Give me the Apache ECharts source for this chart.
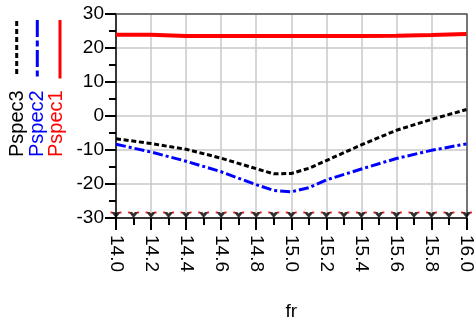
<!DOCTYPE html>
<html><head><meta charset="utf-8">
<script src="https://cdn.jsdelivr.net/npm/echarts@6/dist/echarts.min.js"></script>
<style>html,body{margin:0;padding:0;background:#fff}#c{width:476px;height:326px}</style>
</head><body><div id="c"></div>
<script>
const freq = [14.0,14.2,14.4,14.6,14.8,14.9,15.0,15.1,15.2,15.4,15.6,15.8,16.0];
const pspec1 = [23.9,23.9,23.5,23.5,23.5,23.5,23.5,23.5,23.5,23.5,23.6,23.8,24.1];
const pspec2 = [-8.3,-10.6,-13.3,-16.4,-20.2,-21.9,-22.3,-21.1,-18.8,-15.6,-12.5,-10.1,-8.2];
const pspec3 = [-6.7,-8.1,-9.8,-12.4,-15.5,-17.0,-16.9,-15.4,-13.1,-8.5,-4.2,-1.0,1.9];
const markerFreq = [14.0,14.1,14.2,14.3,14.4,14.5,14.6,14.7,14.8,14.9,15.0,15.1,15.2,15.3,15.4,15.5,15.6,15.7,15.8,15.9,16.0];
const markerLevel = [-30,-30,-30,-30,-30,-30,-30,-30,-30,-30,-30,-30,-30,-30,-30,-30,-30,-30,-30,-30,-30];
const legendNames = ['Pspec3','Pspec2','Pspec1'];
const legendColors = ['#000000','#0000ff','#ff0000'];

const FONT = 'Liberation Sans, Arial, sans-serif';
const pair = (xs, ys) => xs.map((x,i)=>[x, ys[i]]);

const chart = echarts.init(document.getElementById('c'));
const legendX = [17.5, 37.5, 56.5];
const sampleX = [16.7, 37.3, 60];
const graphics = [];
legendNames.forEach((n,i)=>{
  graphics.push({type:'text', x:legendX[i], y:157, rotation:Math.PI/2,
    style:{text:n, fill:legendColors[i], font:'20px '+FONT, textAlign:'left', textVerticalAlign:'middle'}});
});
graphics.push({type:'line', shape:{x1:sampleX[0],y1:21,x2:sampleX[0],y2:76}, style:{stroke:'#000',lineWidth:3,lineDash:[5,3]}});
graphics.push({type:'line', shape:{x1:sampleX[1],y1:20,x2:sampleX[1],y2:79}, style:{stroke:'#0000ff',lineWidth:3,lineDash:[17,3.5,6,3.5]}});
graphics.push({type:'line', shape:{x1:sampleX[2],y1:20,x2:sampleX[2],y2:78.5}, style:{stroke:'#ff0000',lineWidth:3}});

const borderAxis = {show:true,onZero:false,lineStyle:{color:'#555',width:1.5}};
chart.setOption({
  animation:false,
  grid:{left:116,right:6,top:14,bottom:97},
  xAxis:[{type:'value',min:14,max:16,interval:0.2,
    name:'fr',nameLocation:'middle',nameGap:84,nameTextStyle:{color:'#000',fontSize:19,fontFamily:FONT},
    axisLine:{show:true,onZero:false,lineStyle:{color:'#000',width:1.5}},
    axisTick:{show:true,length:12,lineStyle:{color:'#000',width:2}},
    minorTick:{show:true,splitNumber:2,length:7,lineStyle:{color:'#000',width:2}},
    splitLine:{show:true,lineStyle:{color:'#c8c8c8',width:1.5}},
    axisLabel:{rotate:-90,margin:17,color:'#000',fontSize:19,fontFamily:FONT,formatter:v=>v.toFixed(1)}},
   {type:'value',position:'top',min:14,max:16,interval:0.2,axisLine:borderAxis,axisTick:{show:false},axisLabel:{show:false},splitLine:{show:false}}],
  yAxis:[{type:'value',min:-30,max:30,interval:10,
    axisLine:{show:true,onZero:false,lineStyle:{color:'#000',width:1.5}},
    axisTick:{show:true,length:11,lineStyle:{color:'#000',width:2}},
    minorTick:{show:true,splitNumber:2,length:7,lineStyle:{color:'#000',width:2}},
    splitLine:{show:true,lineStyle:{color:'#c8c8c8',width:1.5}},
    axisLabel:{margin:12,color:'#000',fontSize:19,fontFamily:FONT}},
   {type:'value',position:'right',min:-30,max:30,interval:10,axisLine:borderAxis,axisTick:{show:false},axisLabel:{show:false},splitLine:{show:false}}],
  graphic:graphics,
  series:[
    {name:'Pspec1',type:'line',data:pair(freq,pspec1),symbol:'none',lineStyle:{color:'#ff0000',width:4},z:3},
    {name:'Pspec2',type:'line',data:pair(freq,pspec2),symbol:'none',lineStyle:{color:'#0000ff',width:3,type:[10,3,3,3]},z:4},
    {name:'Pspec3',type:'line',data:pair(freq,pspec3),symbol:'none',lineStyle:{color:'#000',width:3,type:[5,2.7]},z:5},
    {name:'markers',type:'scatter',data:pair(markerFreq,markerLevel),
      symbol:'path://M0,0 L3.6,0 L5,1.6 L6.4,0 L10,0 L5,6 Z',symbolSize:[10,6],symbolOffset:[0,-3],
      itemStyle:{color:'#000'},z:6,silent:true,clip:false},
    {name:'markerTips',type:'scatter',data:pair(markerFreq,markerLevel),
      symbol:'path://M0,0 L2,0 L2,2 L0,2 Z M9,0 L11,0 L11,2 L9,2 Z',symbolSize:[11,2],symbolOffset:[0,-5.5],
      itemStyle:{color:'#ff0000'},z:7,silent:true,clip:false}
  ]
});
</script></body></html>
